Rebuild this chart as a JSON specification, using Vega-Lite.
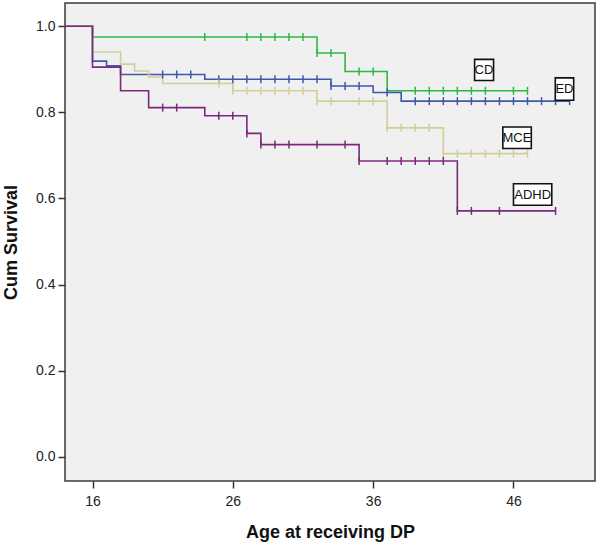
{
  "$schema": "https://vega.github.io/schema/vega-lite/v6.json",
  "width": 530,
  "height": 478,
  "autosize": {"type": "none"},
  "padding": {"left": 65, "top": 3, "right": 5, "bottom": 63},
  "background": "white",
  "config": {
    "view": {"fill": "#F0F0F0", "stroke": "#3a3a3a", "strokeWidth": 1.5},
    "font": "Liberation Sans"
  },
  "datasets": {
    "curves": [
      {"g": "CD", "t": 14, "s": 1}, {"g": "CD", "t": 16, "s": 0.975}, {"g": "CD", "t": 32, "s": 0.938}, {"g": "CD", "t": 34, "s": 0.895}, {"g": "CD", "t": 37, "s": 0.85}, {"g": "CD", "t": 47, "s": 0.85},
      {"g": "ED", "t": 14, "s": 1}, {"g": "ED", "t": 16, "s": 0.919}, {"g": "ED", "t": 17, "s": 0.908}, {"g": "ED", "t": 18, "s": 0.888}, {"g": "ED", "t": 24, "s": 0.877}, {"g": "ED", "t": 33, "s": 0.861}, {"g": "ED", "t": 36, "s": 0.846}, {"g": "ED", "t": 38, "s": 0.826}, {"g": "ED", "t": 50, "s": 0.826},
      {"g": "MCE", "t": 14, "s": 1}, {"g": "MCE", "t": 16, "s": 0.94}, {"g": "MCE", "t": 18, "s": 0.912}, {"g": "MCE", "t": 19, "s": 0.896}, {"g": "MCE", "t": 20, "s": 0.882}, {"g": "MCE", "t": 21, "s": 0.867}, {"g": "MCE", "t": 26, "s": 0.85}, {"g": "MCE", "t": 32, "s": 0.826}, {"g": "MCE", "t": 37, "s": 0.764}, {"g": "MCE", "t": 41, "s": 0.704}, {"g": "MCE", "t": 47, "s": 0.704},
      {"g": "ADHD", "t": 14, "s": 1}, {"g": "ADHD", "t": 16, "s": 0.905}, {"g": "ADHD", "t": 18, "s": 0.85}, {"g": "ADHD", "t": 20, "s": 0.811}, {"g": "ADHD", "t": 24, "s": 0.792}, {"g": "ADHD", "t": 27, "s": 0.751}, {"g": "ADHD", "t": 28, "s": 0.725}, {"g": "ADHD", "t": 35, "s": 0.687}, {"g": "ADHD", "t": 42, "s": 0.571}, {"g": "ADHD", "t": 49, "s": 0.571}
    ],
    "censored": [
      {"g": "CD", "t": 24, "s": 0.975}, {"g": "CD", "t": 27, "s": 0.975}, {"g": "CD", "t": 28, "s": 0.975}, {"g": "CD", "t": 29, "s": 0.975}, {"g": "CD", "t": 30, "s": 0.975}, {"g": "CD", "t": 31, "s": 0.975},
      {"g": "CD", "t": 32, "s": 0.938}, {"g": "CD", "t": 33, "s": 0.938}, {"g": "CD", "t": 35, "s": 0.895}, {"g": "CD", "t": 36, "s": 0.895},
      {"g": "CD", "t": 39, "s": 0.85}, {"g": "CD", "t": 40, "s": 0.85}, {"g": "CD", "t": 41, "s": 0.85}, {"g": "CD", "t": 42, "s": 0.85}, {"g": "CD", "t": 43, "s": 0.85}, {"g": "CD", "t": 44, "s": 0.85}, {"g": "CD", "t": 46, "s": 0.85}, {"g": "CD", "t": 47, "s": 0.85},
      {"g": "ED", "t": 21, "s": 0.888}, {"g": "ED", "t": 22, "s": 0.888}, {"g": "ED", "t": 23, "s": 0.888},
      {"g": "ED", "t": 25, "s": 0.877}, {"g": "ED", "t": 26, "s": 0.877}, {"g": "ED", "t": 27, "s": 0.877}, {"g": "ED", "t": 28, "s": 0.877}, {"g": "ED", "t": 29, "s": 0.877}, {"g": "ED", "t": 30, "s": 0.877}, {"g": "ED", "t": 31, "s": 0.877}, {"g": "ED", "t": 32, "s": 0.877},
      {"g": "ED", "t": 33, "s": 0.861}, {"g": "ED", "t": 34, "s": 0.861}, {"g": "ED", "t": 35, "s": 0.861}, {"g": "ED", "t": 37, "s": 0.846},
      {"g": "ED", "t": 39, "s": 0.826}, {"g": "ED", "t": 40, "s": 0.826}, {"g": "ED", "t": 41, "s": 0.826}, {"g": "ED", "t": 42, "s": 0.826}, {"g": "ED", "t": 43, "s": 0.826}, {"g": "ED", "t": 44, "s": 0.826}, {"g": "ED", "t": 45, "s": 0.826}, {"g": "ED", "t": 46, "s": 0.826}, {"g": "ED", "t": 47, "s": 0.826}, {"g": "ED", "t": 48, "s": 0.826}, {"g": "ED", "t": 49, "s": 0.826}, {"g": "ED", "t": 50, "s": 0.826},
      {"g": "MCE", "t": 25, "s": 0.867}, {"g": "MCE", "t": 26, "s": 0.85}, {"g": "MCE", "t": 27, "s": 0.85}, {"g": "MCE", "t": 28, "s": 0.85}, {"g": "MCE", "t": 29, "s": 0.85}, {"g": "MCE", "t": 30, "s": 0.85}, {"g": "MCE", "t": 31, "s": 0.85},
      {"g": "MCE", "t": 32, "s": 0.826}, {"g": "MCE", "t": 33, "s": 0.826}, {"g": "MCE", "t": 35, "s": 0.826}, {"g": "MCE", "t": 36, "s": 0.826},
      {"g": "MCE", "t": 37, "s": 0.764}, {"g": "MCE", "t": 38, "s": 0.764}, {"g": "MCE", "t": 39, "s": 0.764}, {"g": "MCE", "t": 40, "s": 0.764},
      {"g": "MCE", "t": 41, "s": 0.704}, {"g": "MCE", "t": 42, "s": 0.704}, {"g": "MCE", "t": 43, "s": 0.704}, {"g": "MCE", "t": 44, "s": 0.704}, {"g": "MCE", "t": 45, "s": 0.704}, {"g": "MCE", "t": 46, "s": 0.704}, {"g": "MCE", "t": 47, "s": 0.704},
      {"g": "ADHD", "t": 21, "s": 0.811}, {"g": "ADHD", "t": 22, "s": 0.811}, {"g": "ADHD", "t": 25, "s": 0.792}, {"g": "ADHD", "t": 26, "s": 0.792}, {"g": "ADHD", "t": 27, "s": 0.751},
      {"g": "ADHD", "t": 28, "s": 0.725}, {"g": "ADHD", "t": 29, "s": 0.725}, {"g": "ADHD", "t": 30, "s": 0.725}, {"g": "ADHD", "t": 32, "s": 0.725}, {"g": "ADHD", "t": 34, "s": 0.725},
      {"g": "ADHD", "t": 35, "s": 0.687}, {"g": "ADHD", "t": 37, "s": 0.687}, {"g": "ADHD", "t": 38, "s": 0.687}, {"g": "ADHD", "t": 39, "s": 0.687}, {"g": "ADHD", "t": 40, "s": 0.687}, {"g": "ADHD", "t": 41, "s": 0.687},
      {"g": "ADHD", "t": 42, "s": 0.571}, {"g": "ADHD", "t": 43, "s": 0.571}, {"g": "ADHD", "t": 45, "s": 0.571}, {"g": "ADHD", "t": 49, "s": 0.571}
    ],
    "labels": [
      {"g": "CD", "x1": 43.23, "x2": 44.58, "y1": 0.874, "y2": 0.923, "lx": 43.9, "ly": 0.898},
      {"g": "ED", "x1": 48.98, "x2": 50.29, "y1": 0.828, "y2": 0.88, "lx": 49.63, "ly": 0.854},
      {"g": "MCE", "x1": 45.24, "x2": 47.27, "y1": 0.716, "y2": 0.766, "lx": 46.25, "ly": 0.741},
      {"g": "ADHD", "x1": 46.0, "x2": 48.73, "y1": 0.584, "y2": 0.634, "lx": 47.37, "ly": 0.609}
    ]
  },
  "layer": [
    {
      "data": {"name": "curves"},
      "mark": {"type": "line", "interpolate": "step-after", "strokeWidth": 1.6, "clip": true},
      "encoding": {
        "x": {
          "field": "t", "type": "quantitative",
          "scale": {"domain": [14.04, 51.81], "nice": false, "zero": false},
          "axis": {
            "title": "Age at receiving DP", "values": [16, 26, 36, 46], "domain": false, "grid": false,
            "tickSize": 7, "tickColor": "#333", "tickWidth": 1.5,
            "labelFontSize": 14, "labelColor": "#222", "labelPadding": 6,
            "titleFontSize": 18, "titleFontWeight": "bold", "titleColor": "#111", "titlePadding": 15
          }
        },
        "y": {
          "field": "s", "type": "quantitative",
          "scale": {"domain": [-0.0565, 1.054], "nice": false, "zero": false},
          "axis": {
            "title": "Cum Survival", "values": [0, 0.2, 0.4, 0.6, 0.8, 1.0], "format": ".1f", "domain": false, "grid": false,
            "tickSize": 7, "tickColor": "#333", "tickWidth": 1.5,
            "labelFontSize": 14, "labelColor": "#222", "labelPadding": 3,
            "titleFontSize": 18, "titleFontWeight": "bold", "titleColor": "#111", "titlePadding": 15
          }
        },
        "color": {
          "field": "g", "type": "nominal",
          "scale": {"domain": ["ED", "MCE", "CD", "ADHD"], "range": ["#3E58AC", "#D3CE97", "#2EB848", "#7C287D"]},
          "legend": null
        }
      }
    },
    {
      "data": {"name": "censored"},
      "mark": {"type": "point", "shape": "M0,-1V1", "size": 64, "strokeWidth": 1.5, "filled": false, "opacity": 1},
      "encoding": {
        "x": {"field": "t", "type": "quantitative"},
        "y": {"field": "s", "type": "quantitative"},
        "color": {"field": "g", "type": "nominal", "legend": null}
      }
    },
    {
      "data": {"name": "labels"},
      "mark": {"type": "rect", "fill": "white", "stroke": "#111", "strokeWidth": 1.6},
      "encoding": {
        "x": {"field": "x1", "type": "quantitative"},
        "x2": {"field": "x2"},
        "y": {"field": "y1", "type": "quantitative"},
        "y2": {"field": "y2"}
      }
    },
    {
      "data": {"name": "labels"},
      "mark": {"type": "text", "fontSize": 13, "color": "#111"},
      "encoding": {
        "x": {"field": "lx", "type": "quantitative"},
        "y": {"field": "ly", "type": "quantitative"},
        "text": {"field": "g"}
      }
    }
  ]
}
